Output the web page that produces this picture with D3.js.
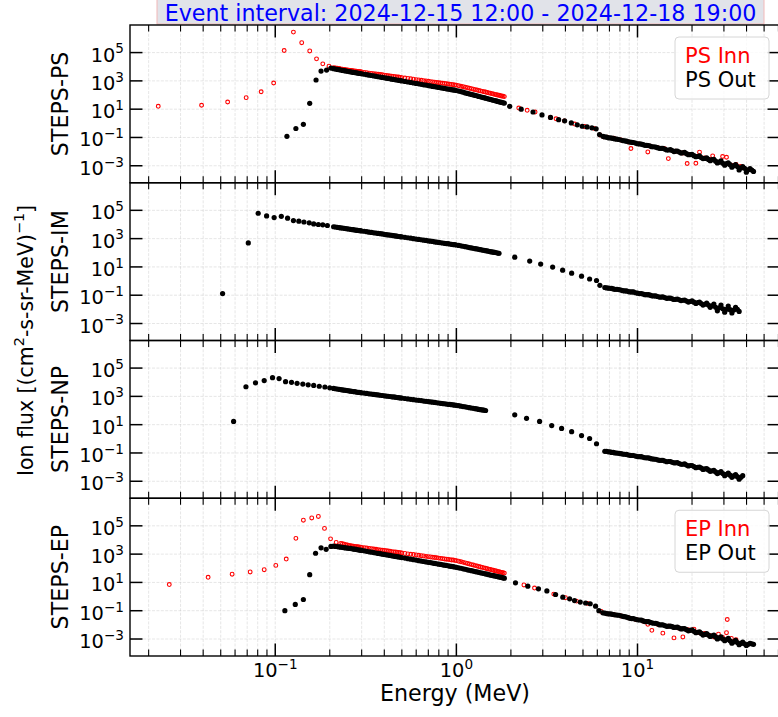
<!DOCTYPE html>
<html><head><meta charset="utf-8">
<script src="https://cdn.jsdelivr.net/npm/d3@7"></script>
<style>
body{margin:0;background:#fff}
svg{display:block}
text{font-family:"DejaVu Sans",sans-serif}
</style>
</head><body>
<svg id="chart" width="778" height="717"></svg>
<script>
// ---------------- DATA (energy in MeV, flux in (cm2-s-sr-MeV)^-1) ----------------
const TITLE = "Event interval: 2024-12-15 12:00 - 2024-12-18 19:00";
const PANEL_LABELS = ["STEPS-PS", "STEPS-IM", "STEPS-NP", "STEPS-EP"];
const LEGEND_PS = ["PS Inn", "PS Out"];
const LEGEND_EP = ["EP Inn", "EP Out"];
const X_LABEL = "Energy (MeV)";
const Y_TICK_EXP = [-3, -1, 1, 3, 5];
const X_TICK_EXP = [-1, 0, 1];

// energy grids of the densely sampled parts
const E_DENSE = [0.210,0.215,0.220,0.225,0.230,0.235,0.240,0.245,0.250,0.255,0.260,0.265,0.270,0.275,0.280,0.285,0.290,0.295,0.300,
  0.31,0.32,0.33,0.34,0.35,0.36,0.37,0.38,0.39,0.40,0.41,0.42,0.43,0.44,0.45,0.46,0.47,0.48,0.49,0.50,
  0.52,0.54,0.56,0.58,0.60,0.62,0.64,0.66,0.68,0.70,0.72,0.74,0.76,0.78,0.80,0.82,0.84,0.86,0.88,0.90,0.92,0.94,0.96,0.98,1.00,
  1.03,1.06,1.09,1.12,1.15,1.18,1.21,1.24,1.27,1.30,1.33,1.36,1.39,1.42,1.45,1.48,1.51,1.54,1.57,1.60,1.63,1.66,1.69,1.72,1.75,1.78,1.81,1.84];
const E_HIGH = [6.6,6.9,7.2,7.5,7.9,8.3,8.7,9.1,9.5,10.0,10.5,11.0,11.5,12.0,12.6,13.2,13.8,14.5,15.2,15.9,16.6,17.4,18.2,19.1,20.0,21.0,22.0,23.0,24.1,25.2,26.4,27.6,28.9,30.3,31.7,33.2,34.8,36.4,38.1,39.9,41.8,43.7];
const E_HIGH_B = [6.75,7.05,7.35,7.7,8.1,8.5,8.9,9.3,9.75,10.25,10.75,11.25,11.75,12.3,12.9,13.5,14.15,14.85,15.55,16.25,17.0,17.8,18.65,19.55,20.5,21.5,22.5,23.55,24.65,25.8,27.0,28.25,29.6,31.0,32.45,34.0,35.6,37.25,39.0,40.85,42.75];

// STEPS-PS inner (red)
const psInnLowE = [0.0226,0.0392,0.0546,0.0691,0.0836,0.098,0.112,0.126,0.140,0.155,0.169,0.183,0.198];
const psInnLowF = [16,19,32,65,170,710,1.4e5,2.8e6,5.0e5,1.3e5,3.6e4,1.6e4,1.1e4];
const psInnDenseF = [8510,8130,7760,7410,7080,6760,6460,6170,5890,5750,5500,5370,5130,5010,4790,4680,4570,4370,4270,
  3980,3800,3550,3390,3240,3090,2950,2820,2690,2570,2450,2340,2240,2140,2090,2000,1910,1860,1780,1700,
  1580,1510,1410,1320,1230,1170,1100,1050,1000,933,891,851,813,776,741,708,676,661,631,603,575,562,537,513,501,
  457,417,389,355,324,302,282,257,240,224,209,195,182,170,162,151,141,132,126,117,112,105,100,95.5,89.1,85.1,81.3,77.6];
const psInnMidE = [2.21,2.46,2.72,3.30,3.55,3.95,4.50,5.10,5.75,6.20,6.50];
const psInnMidF = [12,8.3,6.3,2.6,2.1,1.5,0.89,0.60,0.44,0.15,0.11];
const psInnHighE = [6.8,7.4,8.1,8.9,9.2,10.2,11.4,11.8,12.9,14.1,14.8,16.2,17.8,18.8,19.6,21.0,22.0,23.5,25.0,26.0,27.5,29.5,31.0,33.0,35.0,37.0];
const psInnHighF = [0.105,0.087,0.066,0.048,0.0166,0.0355,0.0095,0.024,0.019,0.0158,0.0032,0.0105,0.0079,0.00145,0.0063,0.0015,0.0091,0.0035,0.0028,0.0050,0.0018,0.0045,0.0040,0.0011,0.00126,0.00089];

// STEPS-PS outer (black)
const psOutLowE = [0.116,0.130,0.143,0.155,0.168,0.179,0.192,0.203];
const psOutLowF = [0.12,0.43,0.85,26,1150,4900,5800,8000];
const psOutDenseF = [7240,6920,6460,6170,5890,5500,5250,5010,4790,4570,4370,4170,3980,3890,3720,3550,3390,3310,3160,
  2950,2750,2510,2400,2240,2090,1950,1860,1740,1660,1550,1480,1410,1320,1260,1200,1150,1100,1050,1000,
  912,832,776,708,661,617,575,525,501,468,437,407,389,363,347,324,309,295,275,263,251,240,229,219,209,
  191,174,158,141,129,120,110,102,93.3,87.1,79.4,74.1,69.2,64.6,60.3,56.2,52.5,49.0,45.7,42.7,40.7,38.0,35.5,33.1,31.6,30.2,28.2,26.9];
const psOutMidE = [1.97,2.28,2.65,2.97,3.31,3.67,3.96,4.31,4.65,4.95,5.27,5.60,5.91,6.17,6.44];
const psOutMidF = [16,10,6.3,3.9,2.6,1.8,1.5,1.07,0.78,0.62,0.56,0.48,0.41,0.16,0.12];
const psOutHighF = [0.11,0.095,0.091,0.079,0.072,0.060,0.055,0.047,0.044,0.036,0.034,0.028,0.027,0.022,0.021,0.017,0.017,0.013,0.014,0.010,0.011,0.0079,0.0087,0.0060,0.0063,0.0044,0.0050,0.0032,0.0036,0.0023,0.0028,0.0016,0.0022,0.0011,0.0016,0.00079,0.0012,0.00050,0.00089,0.00035,0.00063,0.00040];
const psOutHighBF = [0.107,0.095,0.085,0.076,0.066,0.058,0.050,0.045,0.040,0.035,0.031,0.028,0.025,0.022,0.019,0.017,0.015,0.013,0.012,0.011,0.0093,0.0083,0.0072,0.0062,0.0052,0.0045,0.0038,0.0033,0.0028,0.0027,0.0021,0.0018,0.0015,0.0014,0.0012,0.0010,0.00089,0.00070,0.00066,0.00052,0.00050];

// STEPS-IM
const imLowE = [0.0512,0.071,0.0805,0.0896,0.0986,0.108,0.117,0.126,0.135,0.144,0.154,0.163,0.173,0.183,0.194];
const imLowF = [0.13,500,6.2e4,4.0e4,3.1e4,3.8e4,2.8e4,1.9e4,1.7e4,1.5e4,1.3e4,1.1e4,1.0e4,9.5e3,8.5e3];
const imDenseF = [6920,6610,6310,6030,5750,5620,5370,5130,4900,4790,4570,4370,4270,4070,3980,3800,3720,3630,3470,
  3310,3090,2880,2750,2570,2450,2340,2240,2140,2000,1910,1820,1780,1700,1620,1550,1480,1410,1380,1320,
  1230,1150,1070,1000,933,871,832,776,741,692,661,631,589,562,537,513,490,468,447,437,417,398,380,372,355,
  331,309,288,269,251,234,219,209,195,186,174,166,155,148,141,135,126,120,115,110,105,100,95.5,91.2];
const imMidE = [2.10,2.54,2.92,3.40,3.86,4.33,4.91,5.44,5.94,6.20];
const imMidF = [49,26,16,9.8,5.9,3.6,2.2,1.4,1.1,0.50];
const imHighF = [0.35,0.32,0.30,0.26,0.25,0.21,0.20,0.17,0.17,0.14,0.13,0.11,0.11,0.091,0.089,0.074,0.076,0.060,0.063,0.050,0.054,0.042,0.046,0.033,0.040,0.026,0.033,0.020,0.028,0.014,0.024,0.0079,0.020,0.0063,0.017,0.0056,0.014,0.0071];
const imHighBF = [0.33,0.31,0.28,0.26,0.23,0.20,0.18,0.17,0.15,0.13,0.12,0.11,0.10,0.089,0.081,0.074,0.068,0.062,0.056,0.051,0.047,0.044,0.039,0.036,0.032,0.030,0.026,0.023,0.020,0.018,0.014,0.013,0.011,0.010,0.0095,0.0089,0.010];

// STEPS-NP
const npLowE = [0.0589,0.0689,0.0778,0.0869,0.0966,0.105,0.114,0.123,0.132,0.142,0.152,0.163,0.175,0.188,0.200];
const npLowF = [17,4.8e3,9.1e3,1.3e4,2.1e4,1.8e4,1.1e4,9.8e3,8.3e3,7.4e3,6.6e3,5.9e3,5.2e3,4.6e3,4.0e3];
const npDenseF = [3630,3470,3310,3160,3020,2880,2750,2690,2570,2450,2340,2290,2190,2140,2040,1950,1910,1860,1780,
  1700,1620,1510,1450,1380,1320,1260,1200,1150,1100,1050,1020,977,933,912,871,832,813,776,759,
  708,661,617,589,550,525,501,468,447,427,407,389,372,355,339,324,309,302,288,275,269,257,251,240,234,
  219,204,191,182,170,158,151,145,135,129,120,115,110,105,100];
const npMidE = [2.10,2.44,2.88,3.36,3.81,4.33,4.91,5.44,5.94];
const npMidF = [50,28,17,8.7,5.4,3.2,1.7,1.05,0.45];
const npHighF = [0.13,0.12,0.11,0.10,0.095,0.083,0.079,0.068,0.066,0.056,0.055,0.046,0.045,0.038,0.036,0.030,0.030,0.024,0.025,0.020,0.021,0.016,0.017,0.012,0.013,0.0091,0.010,0.0069,0.0079,0.0050,0.0060,0.0035,0.0048,0.0025,0.0038,0.0019,0.0030,0.0014,0.0025];
const npHighBF = [0.13,0.12,0.11,0.098,0.089,0.081,0.072,0.066,0.060,0.055,0.050,0.045,0.041,0.037,0.033,0.030,0.027,0.025,0.022,0.020,0.018,0.016,0.014,0.013,0.011,0.0098,0.0085,0.0074,0.0063,0.0055,0.0046,0.0041,0.0035,0.0031,0.0027,0.0024,0.0021,0.0019];

// STEPS-EP inner (red)
const epInnLowE = [0.026,0.0426,0.0578,0.0727,0.0869,0.1007,0.115,0.130,0.143,0.159,0.173,0.187,0.202,0.217];
const epInnLowF = [7.1,23,38,55,79,160,450,1.3e4,2.5e5,3.6e5,4.6e5,6.6e4,1.2e4,6.8e3];
const epInnDenseF = [5750,5370,5010,4680,4370,4170,3890,3800,3630,3550,3390,3310,3240,3090,3020,
  2820,2690,2510,2400,2290,2190,2090,1950,1860,1820,1740,1660,1580,1510,1450,1410,1350,1290,1260,1200,
  1120,1050,977,933,871,832,776,741,692,661,631,603,575,550,525,501,479,457,437,427,407,389,380,363,347,
  316,288,263,240,219,200,182,170,155,145,135,123,115,107,100,93.3,87.1,81.3,77.6,72.4,67.6,64.6,60.3,56.2,53.7,51.3,47.9,45.7];
const epInnMidE = [2.36,2.70,3.45,4.00,4.60,5.30,6.30];
const epInnMidF = [6.6,4.0,1.5,0.83,0.48,0.33,0.089];
const epInnHighE = [6.8,7.4,8.1,8.9,9.8,10.8,11.4,12.0,12.9,13.8,14.8,15.9,16.8,17.8,19.0,20.5,22.0,23.5,25.0,26.5,28.0,29.5,31.0,31.3,33.0,35.0];
const epInnHighF = [0.060,0.052,0.042,0.032,0.024,0.018,0.011,0.0041,0.011,0.0026,0.0079,0.0012,0.0060,0.0014,0.0045,0.0050,0.0028,0.0025,0.0018,0.0014,0.0022,0.0013,0.0028,0.024,0.0011,0.00089];

// STEPS-EP outer (black)
const epOutLowE = [0.113,0.129,0.143,0.155,0.167,0.179,0.191,0.203];
const epOutLowF = [0.10,0.28,0.62,35,1150,2800,2200,3500];
const epOutDenseF = [3630,3470,3390,3240,3090,3020,2880,2750,2690,2570,2510,2400,2290,2240,2140,2040,1950,1910,1820,
  1700,1580,1450,1380,1290,1200,1120,1070,1000,955,891,851,813,759,724,692,661,631,603,575,
  525,479,437,407,380,347,324,302,282,263,251,234,219,209,195,186,174,166,158,151,141,135,129,123,117,
  107,100,91.2,85.1,77.6,72.4,67.6,63.1,58.9,55.0,51.3,47.9,45.7,42.7,39.8,38.0,35.5,33.1,31.6,30.2,28.8,26.9,25.7,24.5,23.4,22.4,20.9,20.0];
const epOutMidE = [2.12,2.48,2.84,3.16,3.53,3.87,4.22,4.49,4.83,5.17,5.48,5.87,6.12,6.44];
const epOutMidF = [9.3,5.4,3.5,2.5,1.4,0.91,0.69,0.52,0.41,0.35,0.31,0.21,0.10,0.071];
const epOutHighF = [0.068,0.060,0.058,0.051,0.048,0.040,0.036,0.029,0.028,0.023,0.022,0.017,0.017,0.014,0.013,0.010,0.010,0.0079,0.0083,0.0066,0.0069,0.0052,0.0055,0.0038,0.0044,0.0028,0.0032,0.0019,0.0024,0.0015,0.0019,0.0010,0.0014,0.00076,0.0011,0.00050,0.00079,0.00040,0.00060,0.00035,0.00050,0.00042];
const epOutHighBF = [0.063,0.059,0.054,0.049,0.044,0.038,0.032,0.028,0.025,0.022,0.019,0.017,0.015,0.013,0.012,0.010,0.0089,0.0081,0.0074,0.0068,0.0060,0.0054,0.0046,0.0041,0.0035,0.0030,0.0025,0.0021,0.0019,0.0017,0.0014,0.0012,0.0010,0.00091,0.00074,0.00063,0.00056,0.00049,0.00046,0.00042,0.00046];

// ---------------- BUILD ----------------
function zip(E, F) { const n = Math.min(E.length, F.length); const out = []; for (let i = 0; i < n; i++) out.push([E[i], F[i]]); return out; }
function seg(...parts) { return [].concat(...parts); }

const panels = [
  { label: PANEL_LABELS[0], legend: LEGEND_PS, series: [
    { hollow: true, pts: seg(zip(psInnLowE, psInnLowF), zip(E_DENSE, psInnDenseF), zip(psInnMidE, psInnMidF), zip(psInnHighE, psInnHighF)) },
    { hollow: false, pts: seg(zip(psOutLowE, psOutLowF), zip(E_DENSE, psOutDenseF), zip(psOutMidE, psOutMidF), zip(E_HIGH, psOutHighF), zip(E_HIGH_B, psOutHighBF)) } ] },
  { label: PANEL_LABELS[1], legend: null, series: [
    { hollow: false, pts: seg(zip(imLowE, imLowF), zip(E_DENSE, imDenseF), zip(imMidE, imMidF), zip(E_HIGH, imHighF), zip(E_HIGH_B, imHighBF)) } ] },
  { label: PANEL_LABELS[2], legend: null, series: [
    { hollow: false, pts: seg(zip(npLowE, npLowF), zip(E_DENSE, npDenseF), zip(npMidE, npMidF), zip(E_HIGH, npHighF), zip(E_HIGH_B, npHighBF)) } ] },
  { label: PANEL_LABELS[3], legend: LEGEND_EP, series: [
    { hollow: true, pts: seg(zip(epInnLowE, epInnLowF), zip(E_DENSE.slice(4), epInnDenseF), zip(epInnMidE, epInnMidF), zip(epInnHighE, epInnHighF)) },
    { hollow: false, pts: seg(zip(epOutLowE, epOutLowF), zip(E_DENSE, epOutDenseF), zip(epOutMidE, epOutMidF), zip(E_HIGH, epOutHighF), zip(E_HIGH_B, epOutHighBF)) } ] }
];

// ---------------- LAYOUT ----------------
const X0 = 130, X1 = 780, TOP = 25, BOT = 656;
const PH = (BOT - TOP) / panels.length;
const FS_BIG = 22.2, FS_TICK = 19.4, FS_SUP = 20.5, FS_LEG = 21;
const svg = d3.select("#chart");
const x = d3.scaleLog().domain([0.01578, 61.2]).range([X0, X1]);
const y = d3.scaleLog().domain([6.3e-5, 8.9e6]).range([PH, 0]);
const xTicks = x.ticks().filter(v => x(v) >= X0 - 0.5 && x(v) <= X1 + 0.5);
const isMajor = v => Math.abs(Math.log10(v) - Math.round(Math.log10(v))) < 1e-6;
const yTicks = Y_TICK_EXP.map(e => Math.pow(10, e));

// title with box
svg.append("rect").attr("x", 157).attr("y", -3).attr("width", 607).attr("height", 27)
  .attr("fill", "#e1e3e9").attr("stroke", "#f2b8b8").attr("stroke-width", 1);
svg.append("text").attr("x", 460.5).attr("y", 20.5).attr("text-anchor", "middle")
  .attr("font-size", FS_BIG).attr("fill", "#0000ff").text(TITLE);

function powLabel(sel, exp, fs) {
  sel.append("tspan").text("10");
  sel.append("tspan").attr("dy", -0.42 * fs).attr("font-size", fs * 0.7)
    .text(exp < 0 ? "\u2212" + Math.abs(exp) : String(exp));
}

panels.forEach((p, i) => {
  const top = TOP + i * PH;
  const g = svg.append("g").attr("transform", `translate(0,${top})`);
  const clipId = "clip" + i;
  g.append("clipPath").attr("id", clipId).append("rect")
    .attr("x", X0).attr("y", 0).attr("width", X1 - X0).attr("height", PH);

  // grid
  const grid = g.append("g").attr("stroke", "#b0b0b0").attr("stroke-opacity", 0.4)
    .attr("stroke-width", 0.8).attr("stroke-dasharray", "3,1.4");
  grid.selectAll("line.gx").data(xTicks).join("line")
    .attr("x1", d => x(d)).attr("x2", d => x(d)).attr("y1", 0).attr("y2", PH);
  grid.selectAll("line.gy").data(yTicks).join("line")
    .attr("x1", X0).attr("x2", X1).attr("y1", d => y(d)).attr("y2", d => y(d));

  // data: inner (red, hollow) first, outer (black, filled) on top
  const dg = g.append("g").attr("clip-path", `url(#${clipId})`);
  p.series.filter(s => s.hollow).forEach(s => {
    dg.append("g").selectAll("circle").data(s.pts).join("circle")
      .attr("cx", d => x(d[0])).attr("cy", d => y(d[1])).attr("r", 1.9)
      .attr("fill", "none").attr("stroke", "#ff0000").attr("stroke-width", 1.1);
  });
  p.series.filter(s => !s.hollow).forEach(s => {
    dg.append("g").selectAll("circle").data(s.pts).join("circle")
      .attr("cx", d => x(d[0])).attr("cy", d => y(d[1])).attr("r", 2.6)
      .attr("fill", "#000");
  });

  // frame
  g.append("rect").attr("x", X0).attr("y", 0).attr("width", X1 - X0).attr("height", PH)
    .attr("fill", "none").attr("stroke", "#000").attr("stroke-width", 1.4);

  // ticks (inward, all four sides)
  const tk = g.append("g").attr("stroke", "#000");
  xTicks.forEach(v => {
    const L = isMajor(v) ? 12.5 : 6.5, w = isMajor(v) ? 1.5 : 1.1;
    tk.append("line").attr("x1", x(v)).attr("x2", x(v)).attr("y1", 0).attr("y2", L).attr("stroke-width", w);
    tk.append("line").attr("x1", x(v)).attr("x2", x(v)).attr("y1", PH).attr("y2", PH - L).attr("stroke-width", w);
  });
  yTicks.forEach(v => {
    tk.append("line").attr("x1", X0).attr("x2", X0 + 12.5).attr("y1", y(v)).attr("y2", y(v)).attr("stroke-width", 1.5);
    tk.append("line").attr("x1", X1).attr("x2", X1 - 12.5).attr("y1", y(v)).attr("y2", y(v)).attr("stroke-width", 1.5);
  });

  // y tick labels
  Y_TICK_EXP.forEach(e => {
    const t = g.append("text").attr("x", X0 - 6).attr("y", y(Math.pow(10, e)) + 9)
      .attr("text-anchor", "end").attr("font-size", FS_TICK).attr("fill", "#000");
    powLabel(t, e, FS_TICK);
  });

  // panel label
  g.append("text").attr("transform", `translate(68,${PH / 2}) rotate(-90)`)
    .attr("text-anchor", "middle").attr("font-size", FS_BIG).text(p.label);

  // legend
  if (p.legend) {
    const lg = g.append("g").attr("transform", "translate(675,12)");
    lg.append("rect").attr("x", 0).attr("y", 0).attr("width", 94).attr("height", 62).attr("rx", 4)
      .attr("fill", "#fff").attr("fill-opacity", 0.8).attr("stroke", "#d6d6d6").attr("stroke-width", 1);
    lg.append("text").attr("x", 10).attr("y", 25.5).attr("font-size", FS_LEG).attr("fill", "#ff0000").text(p.legend[0]);
    lg.append("text").attr("x", 10).attr("y", 50).attr("font-size", FS_LEG).attr("fill", "#000").text(p.legend[1]);
  }

  // x tick labels on the last panel
  if (i === panels.length - 1) {
    X_TICK_EXP.forEach(e => {
      const t = g.append("text").attr("x", x(Math.pow(10, e))).attr("y", PH + 21)
        .attr("text-anchor", "middle").attr("font-size", FS_TICK).attr("fill", "#000");
      powLabel(t, e, FS_TICK);
    });
  }
});

// axis labels
svg.append("text").attr("x", (X0 + X1) / 2).attr("y", 701).attr("text-anchor", "middle")
  .attr("font-size", FS_BIG).text(X_LABEL);
const yl = svg.append("text").attr("transform", `translate(33,${(TOP + BOT) / 2}) rotate(-90)`)
  .attr("text-anchor", "middle").attr("font-size", FS_SUP);
yl.append("tspan").text("Ion flux [(cm");
yl.append("tspan").attr("dy", -0.42 * FS_SUP).attr("font-size", FS_SUP * 0.7).text("2");
yl.append("tspan").attr("dy", 0.42 * FS_SUP).text("-s-sr-MeV)");
yl.append("tspan").attr("dy", -0.42 * FS_SUP).attr("font-size", FS_SUP * 0.7).text("\u22121");
yl.append("tspan").attr("dy", 0.42 * FS_SUP).text("]");
</script>
</body></html>
